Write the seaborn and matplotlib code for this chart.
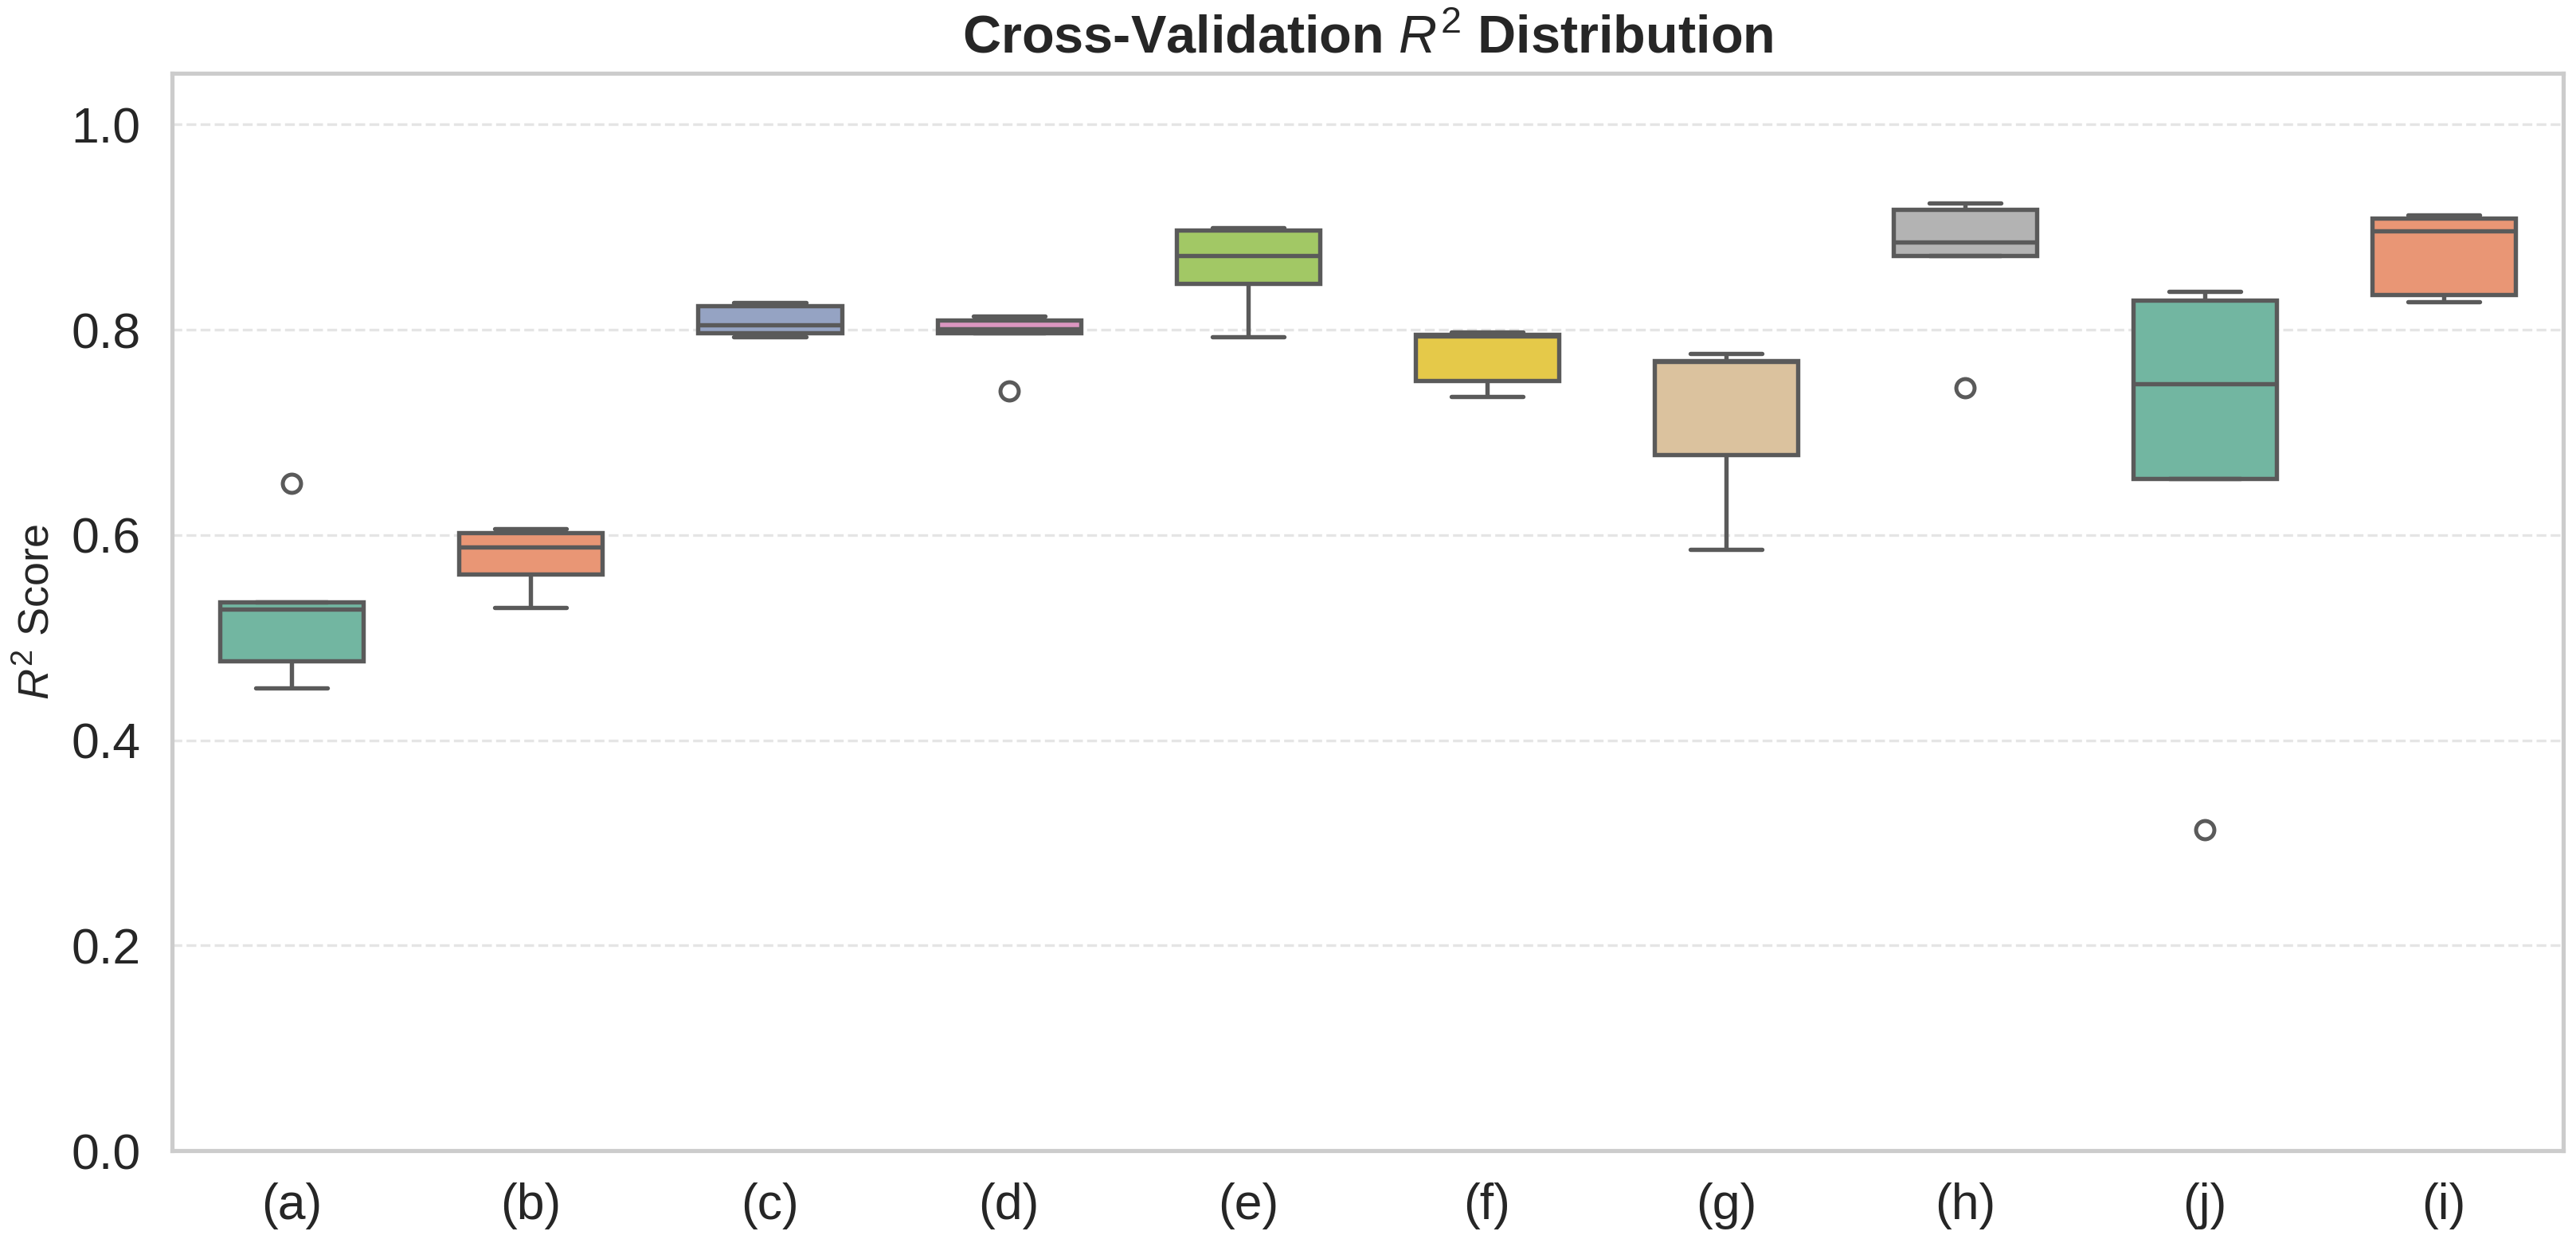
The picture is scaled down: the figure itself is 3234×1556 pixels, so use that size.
import pandas as pd
import matplotlib.pyplot as plt
import seaborn as sns

# Fold scores (5-fold CV)
labels = ['(a)', '(b)', '(c)', '(d)', '(e)', '(f)', '(g)', '(h)', '(j)', '(i)']
scores_a = [0.451, 0.477, 0.528, 0.535, 0.650]
scores_b = [0.529, 0.562, 0.588, 0.602, 0.606]
scores_c = [0.793, 0.797, 0.805, 0.823, 0.826]
scores_d = [0.740, 0.797, 0.801, 0.809, 0.813]
scores_e = [0.793, 0.845, 0.872, 0.897, 0.899]
scores_f = [0.735, 0.750, 0.794, 0.795, 0.798]
scores_g = [0.586, 0.678, 0.769, 0.770, 0.777]
scores_h = [0.743, 0.872, 0.885, 0.917, 0.923]
scores_j = [0.313, 0.655, 0.747, 0.829, 0.837]
scores_i = [0.827, 0.834, 0.896, 0.909, 0.912]

all_scores = [scores_a, scores_b, scores_c, scores_d, scores_e,
              scores_f, scores_g, scores_h, scores_j, scores_i]

rows = []
for lab, vals in zip(labels, all_scores):
    for v in vals:
        rows.append({'model': lab, 'r2': v})
data = pd.DataFrame(rows)

sns.set_theme(style="whitegrid")
plt.rcParams['font.family'] = ['Liberation Sans', 'DejaVu Sans']
plt.rcParams['mathtext.fontset'] = 'custom'
plt.rcParams['mathtext.rm'] = 'Liberation Sans'
plt.rcParams['mathtext.it'] = 'Liberation Sans:italic'
plt.rcParams['mathtext.bf'] = 'Liberation Sans:bold'

fig = plt.figure(figsize=(10.78, 5.1867), dpi=300)
ax = fig.add_axes([0.0668, 0.0713, 0.9282, 0.8697])

sns.boxplot(x='model', y='r2', data=data, hue='model', order=labels,
            palette=sns.color_palette('Set2', 10), legend=False,
            width=0.6, linewidth=1.3, linecolor='#5a5a5a', fliersize=5.5,
            flierprops={'markeredgewidth': 1.2},
            capprops={'solid_capstyle': 'round'}, ax=ax)

ax.set_ylim(0, 1.05)
ax.set_yticks([0.0, 0.2, 0.4, 0.6, 0.8, 1.0])
ax.grid(False)
ax.yaxis.grid(True, linestyle='--', linewidth=0.8, alpha=0.5)
ax.set_title(r'Cross-Validation $R^2$ Distribution', fontsize=16, fontweight='bold')
ax.set_xlabel('')
ax.set_ylabel(r'$R^2$ Score', fontsize=13)
ax.tick_params(axis='both', labelsize=15)

plt.savefig('out.png', dpi=300)
